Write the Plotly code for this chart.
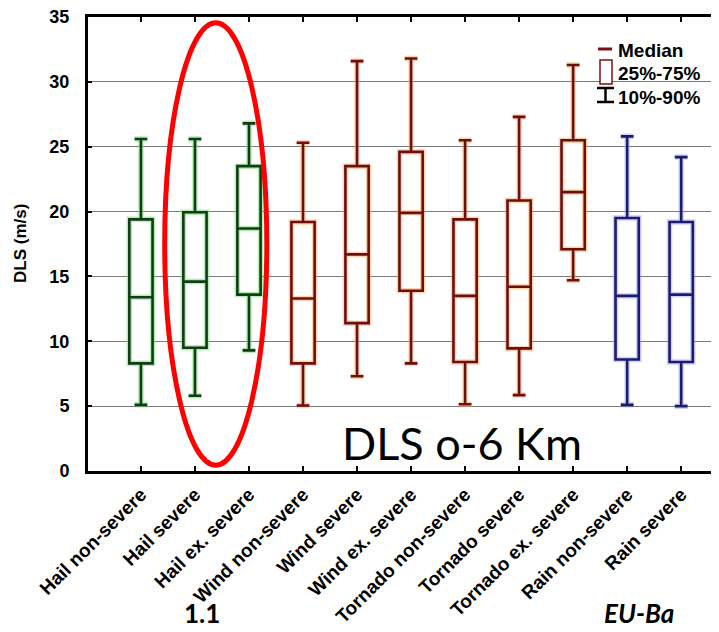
import plotly.graph_objects as go

categories = ["Hail non-severe", "Hail severe", "Hail ex. severe",
              "Wind non-severe", "Wind severe", "Wind ex. severe",
              "Tornado non-severe", "Tornado severe", "Tornado ex. severe",
              "Rain non-severe", "Rain severe"]
p10 = [5.1, 5.8, 9.3, 5.05, 7.3, 8.3, 5.15, 5.85, 14.7, 5.1, 5.0]
p25 = [8.3, 9.5, 13.6, 8.3, 11.4, 13.9, 8.4, 9.45, 17.1, 8.6, 8.4]
median = [13.4, 14.6, 18.7, 13.3, 16.7, 19.9, 13.5, 14.2, 21.5, 13.5, 13.6]
p75 = [19.4, 19.95, 23.5, 19.2, 23.5, 24.6, 19.4, 20.85, 25.5, 19.5, 19.2]
p90 = [25.6, 25.6, 26.8, 25.3, 31.6, 31.8, 25.5, 27.3, 31.3, 25.8, 24.2]
groups = ["hail"] * 3 + ["red"] * 6 + ["rain"] * 2

line_col = {"hail": "#0f3d14", "red": "#6e0e0e", "rain": "#1c1c6e"}
halo_col = {"hail": "rgba(120,220,120,0.55)", "red": "rgba(245,160,80,0.45)",
            "rain": "rgba(150,150,240,0.45)"}

fig = go.Figure()
for i, cat in enumerate(categories):
    g = groups[i]
    for col, w in ((halo_col[g], 5.5), (line_col[g], 2.6)):
        fig.add_trace(go.Box(
            x=[cat], q1=[p25[i]], median=[median[i]], q3=[p75[i]],
            lowerfence=[p10[i]], upperfence=[p90[i]],
            width=0.43, whiskerwidth=0.55,
            line=dict(color=col, width=w),
            fillcolor="rgba(255,255,255,1)" if w > 3 else "rgba(255,255,255,0)",
            boxpoints=False, showlegend=False, hoverinfo="skip"))

# the page body adds an 8px margin, so the figure is 8px smaller and shifted
fig.update_layout(
    width=711, height=624,
    margin=dict(l=80, r=0, t=9, b=161, autoexpand=False),
    paper_bgcolor="white", plot_bgcolor="white",
    boxmode="overlay",
    font=dict(family="Liberation Sans, Arial", color="black"),
    xaxis=dict(
        type="category", categoryorder="array", categoryarray=categories,
        range=[-0.98, 10.70], showgrid=False, zeroline=False, automargin=False,
        showline=True, linecolor="black", linewidth=3, mirror="ticks",
        ticks="inside", ticklen=5, tickwidth=2, tickcolor="black",
        tickangle=-45, ticklabelstandoff=2, ticklabeloverflow="allow",
        tickfont=dict(size=19, weight="bold", family="Liberation Sans, Arial"),
    ),
    yaxis=dict(
        range=[0, 35], dtick=5, tick0=0, automargin=False,
        showgrid=True, gridcolor="#7a7a7a", gridwidth=1, zeroline=False,
        showline=True, linecolor="black", linewidth=3,
        ticks="inside", ticklen=4, tickwidth=2, tickcolor="black",
        ticklabelstandoff=12, ticklabeloverflow="allow",
        tickfont=dict(size=18, weight="bold", family="Liberation Sans, Arial"),
    ),
)

# red ellipse highlighting the hail severe classes
fig.add_shape(type="circle", xref="x", yref="y", x0=0.44, x1=2.33, y0=0.45, y1=34.55,
              line=dict(color="#ff0000", width=5), layer="above")

# helpers mapping page pixels to paper coordinates of the plot area
def px(v):
    return (v - 88) / 631
def py(v):
    return (471 - v) / 454

# y axis title
fig.add_annotation(text="DLS (m/s)", xref="paper", yref="paper", x=px(20), y=0.5,
                   textangle=-90, showarrow=False, xanchor="center", yanchor="middle",
                   font=dict(size=17, weight="bold", family="Liberation Sans, Arial"))

# custom legend
lc = "#7a1010"
fig.add_shape(type="line", xref="paper", yref="paper", x0=px(598), x1=px(612),
              y0=py(49), y1=py(49), line=dict(color=lc, width=3))
fig.add_shape(type="rect", xref="paper", yref="paper", x0=px(600), x1=px(612),
              y0=py(84), y1=py(60), line=dict(color=lc, width=1.5), fillcolor="white")
fig.add_shape(type="line", xref="paper", yref="paper", x0=px(597), x1=px(614),
              y0=py(88), y1=py(88), line=dict(color="black", width=2.5))
fig.add_shape(type="line", xref="paper", yref="paper", x0=px(597), x1=px(614),
              y0=py(102), y1=py(102), line=dict(color="black", width=2.5))
fig.add_shape(type="line", xref="paper", yref="paper", x0=px(605.5), x1=px(605.5),
              y0=py(102), y1=py(88), line=dict(color="black", width=2.5))
for txt, yy in (("Median", 50), ("25%-75%", 74), ("10%-90%", 97)):
    fig.add_annotation(text=txt, xref="paper", yref="paper", x=px(616),
                       y=py(yy), xanchor="left", yanchor="middle",
                       showarrow=False,
                       font=dict(size=19, weight="bold", family="Liberation Sans, Arial"))

# overlay labels
fig.add_annotation(text="DLS o-6 Km", xref="paper", yref="paper", x=px(340),
                   y=py(443), xanchor="left", yanchor="middle", showarrow=False,
                   font=dict(size=45, family="Lato", color="black"))
fig.add_annotation(text="1.1", xref="paper", yref="paper", x=px(182),
                   y=py(631), xanchor="left", yanchor="bottom", showarrow=False,
                   font=dict(size=26, weight="bold", family="Lato", color="black"))
fig.add_annotation(text="<i>EU-Ba</i>", xref="paper", yref="paper", x=px(602),
                   y=py(631), xanchor="left", yanchor="bottom", showarrow=False,
                   font=dict(size=26, weight="bold", family="Lato", color="black"))

fig.write_html("out.html")
